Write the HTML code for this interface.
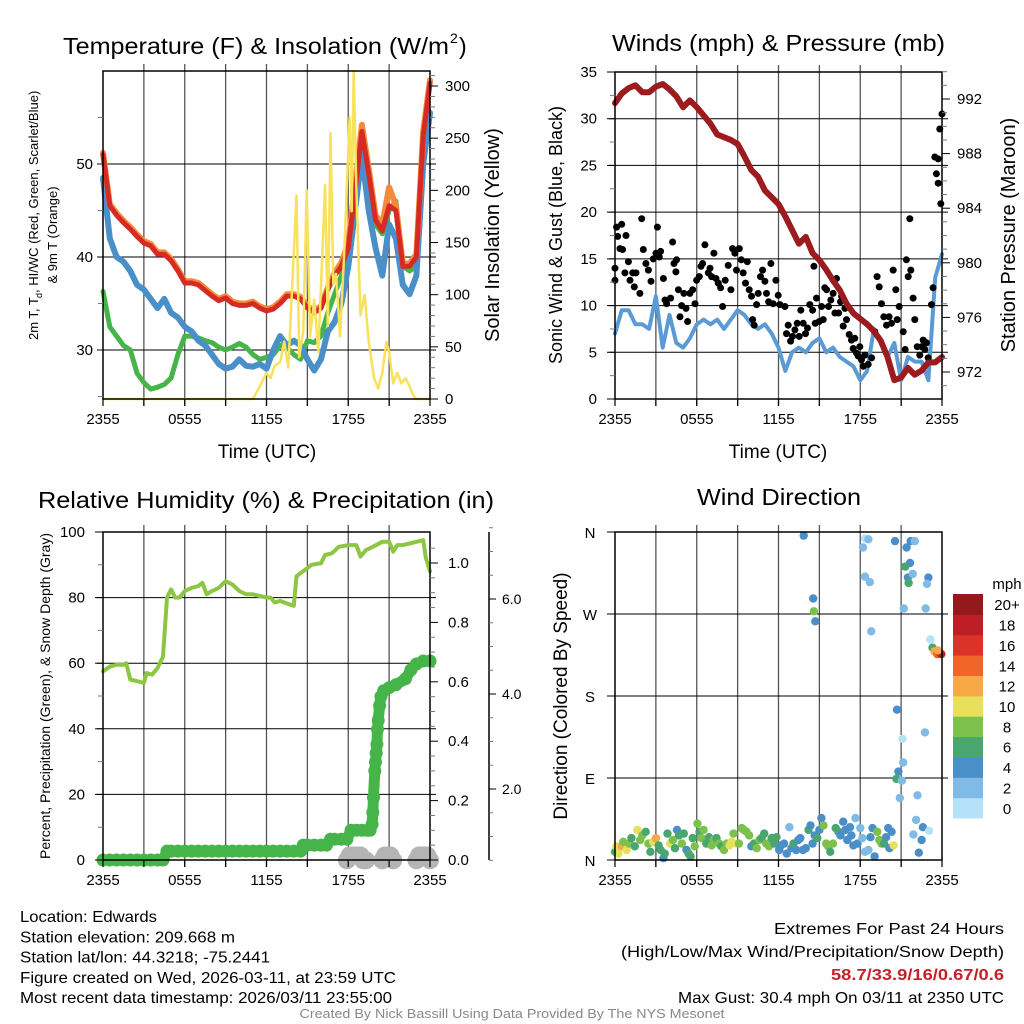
<!DOCTYPE html>
<html><head><meta charset="utf-8"><style>
html,body{margin:0;padding:0;background:#fff;}
svg{display:block;font-family:"Liberation Sans",sans-serif;}
</style></head><body>
<svg id="chart" width="1024" height="1024" viewBox="0 0 1024 1024" xmlns="http://www.w3.org/2000/svg">
<rect width="1024" height="1024" fill="#fff"/>
<g id="grids"></g>
<g id="series"></g>
<g id="frames"></g>
<g id="labels"></g>
</svg>
<script>
// ---------- Panel 1: temperature & insolation ----------
const hourTimes = [0,0.5,1,1.5,2,2.5,3,3.5,4,4.5,5,5.5,6,6.5,7,7.5,8,8.5,9,9.5,10,10.5,11,11.5,12,12.5,13,13.5,14,14.5,15,15.5,16,16.5,17,17.5,18,18.5,19,19.5,20,20.5,21,21.5,22,22.5,23,23.5,24];
const tempRed = [51,45.5,44.5,43.7,43,42.2,41.5,41.2,40.3,40.3,39.6,38.5,37.2,37.2,37,36.4,35.8,35.3,35.6,35,34.8,34.8,35,34.5,34.2,34.4,35,35.8,35.8,35.5,34.5,34,34.5,36.5,38,39,41,47,53.5,49,44,42.8,45.5,45,39,39,40,53,58.7];
const tempOrange = [51.2,45.7,44.7,43.9,43.2,42.4,41.7,41.4,40.5,40.5,39.8,38.7,37.4,37.4,37.2,36.6,36,35.5,35.8,35.2,35,35,35.2,34.7,34.4,34.6,35.2,36,36,35.7,34.7,34.2,34.7,36.7,38.3,39.4,41.5,47.8,54.2,49.5,44.5,43.5,47.5,45.5,39.3,39.3,40.3,53.5,59];
const windChillBlue = [48.5,42,40,39.5,38.5,37,36.5,35.5,34.5,35.5,34,33.5,32.5,32,31,30.5,29.5,28.5,28,28.2,29,28.3,28.2,28.5,28,30,31.5,30.5,31,30.5,29,27.8,29,32,33,35,39,45,51,45,41,38,43.5,42,37,36,38,50,55.5];
const dewGreen = [36.3,32.5,31.5,30.5,30,27.5,26.5,25.8,26,26.3,27,29.5,31.5,31.5,31.3,31,30.8,30.3,30,30.3,30.7,30.3,29.5,29,29.2,29.5,30.5,30.3,29.5,29,31,30.8,31.5,34,36,38,41,46,52,47,43.5,42.5,45,46,39,38.5,39,51,55.5];
const solarTimes = [0,11,11.5,12,12.3,12.6,13,13.3,13.6,14.2,14.4,14.7,14.95,15.2,15.5,15.8,16.3,16.5,16.7,16.9,17.1,17.4,17.7,18.1,18.25,18.4,18.6,18.9,19.2,19.5,19.9,20.2,20.5,20.8,21,21.3,21.6,21.9,22.2,22.5,22.8,23,24];
const solarValues = [0,0,12,25,20,32,35,55,30,195,40,65,200,60,95,45,205,70,255,110,120,60,140,270,180,314,200,80,100,55,20,10,25,55,45,15,25,15,20,12,3,0,0];
const p1LeftTicks = [30,40,50];
const p1RightTicks = [0,50,100,150,200,250,300];
const timeTickLabels = ["2355","0555","1155","1755","2355"];

// ---------- Panel 2: winds & pressure ----------
const windBlue = [7,9.5,9.5,8,8,7.5,11,5.5,9,6,5.5,6.5,8,8.5,8,8.5,7.5,8.5,9.5,9,8,7.5,8,7,5.5,3,5,5.5,5,6,6.5,5,5.5,4.5,4,3.5,2,3,7.5,6,4.5,6,2,4.5,4,4,2,13,15.5];
const pressureMaroon = [991.7,992.4,992.8,993,992.5,992.5,992.9,993.1,992.7,992.2,991.4,991.9,991.4,990.8,990.2,989.4,989.2,989,988.7,987.8,986.8,986.3,985.3,984.8,984.3,983.4,982.4,981.4,981.9,980.7,980.2,979.5,978.7,978,977,976.3,975.9,975.5,975,974.3,973.1,971.4,971.6,972.3,971.8,972.1,972.7,972.7,973.1];
const gustTimes = [0,0,0.12,0.2,0.37,0.49,0.56,0.73,0.81,0.98,1.1,1.3,1.42,1.54,1.83,1.96,2.08,2.27,2.45,2.64,2.81,3.01,3.11,3.25,3.35,3.55,3.67,3.79,4.08,4.23,4.33,4.47,4.52,4.65,4.77,4.89,5.06,5.21,5.33,5.5,5.7,5.87,5.99,6.19,6.31,6.43,6.6,6.85,6.97,7.09,7.26,7.41,7.58,7.75,7.9,8.09,8.31,8.51,8.63,8.8,8.92,9.12,9.27,9.41,9.58,9.71,9.85,10.02,10.1,10.22,10.39,10.51,10.68,10.83,11,11.12,11.27,11.44,11.61,11.81,11.98,12.1,12.47,12.59,12.71,12.89,13.03,13.2,13.37,13.52,13.64,13.81,13.98,14.13,14.3,14.5,14.6,14.69,14.79,14.99,15.16,15.28,15.4,15.53,15.67,15.84,16.01,16.14,16.26,16.41,16.55,16.63,16.75,16.87,16.99,17.19,17.36,17.48,17.6,17.73,17.85,17.97,18.09,18.22,18.34,18.58,18.83,19.07,19.24,19.39,19.56,19.73,19.93,20.12,20.29,20.42,20.61,20.71,20.86,21.15,21.3,21.39,21.52,21.64,21.71,21.88,22.0,22.18,22.37,22.49,22.62,22.74,22.86,22.98,23.23,23.35,23.47,23.59,23.72,23.72,23.84,23.91,24];
const gustValues = [12.7,14,18.4,17.4,16.1,18.7,16,13.5,17.5,14.7,12.7,13.5,12,13.5,11.3,19.3,16,14.5,13.8,12.6,15,15.6,18.4,15.2,15.8,12.9,10.6,10.2,10.8,16.8,14.5,13.6,14.9,11.7,8.8,10,11.3,9.7,8.3,11.3,11.7,10.2,12.7,13.1,14.2,14.5,16.5,13.5,14,13.1,15.6,12.9,12.4,11.9,9.9,12.7,14.3,11.7,16.1,15.6,13.8,16.1,14.9,13.5,12.4,14.7,11.7,11,8.5,7.9,10.1,11.3,13.1,13.8,12.6,11.3,10.4,14.5,10.2,12.7,11.1,10.1,9.9,7,7.9,6.2,6.7,7.4,8.1,6.7,9.5,8.1,7,7.6,10.1,9.5,14.2,8.1,10.8,8.3,9.9,8.5,11.9,11.7,9.9,10.6,11.3,9.2,12.9,9.2,10.4,11,7.8,9.7,8.5,6.9,6.3,5.4,6.5,4.9,4.6,5.6,4.2,3.5,4.7,3.7,4.4,7.2,13.1,12,10.2,8.8,7.9,8.8,8.1,13.8,11.7,8.5,9.9,7.2,5.3,14.9,13.1,19.3,13.8,10.8,8.5,5.6,4.7,5.6,6.3,5.3,6,4.4,10.1,11.9,25.9,24.1,25.7,23.1,28.9,20.9,30.5,28.6];
const p2LeftTicks = [0,5,10,15,20,25,30,35];
const p2RightTicks = [972,976,980,984,988,992];

// ---------- Panel 3: RH, precipitation, snow ----------
const rhTimes = [0,0.5,1,1.5,1.7,2,2.5,3,3.2,3.6,4,4.4,4.7,5,5.3,5.6,6,6.5,7,7.3,7.6,8,8.5,9,9.5,10,10.5,11,11.5,12,12.3,12.6,13,13.3,14,14.2,14.5,15,15.3,16,16.3,16.8,17.3,18,18.6,18.9,19.3,19.8,20.5,21,21.3,21.6,22,22.5,23,23.5,23.7,24];
const rhValues = [57.5,59,59.5,59.5,60,55,54.5,54,57,56.5,58.5,62,80,82.5,80,80,82,83,83.5,84.5,81,82,83,85,84,82,81,81,80.5,80,80,78.5,79,78.5,77.5,86.5,87.5,89,90,90.5,93,93.5,95.5,96,96,92.5,94.5,95.5,97,97,94,96,96,96.5,97,97.5,92,88];
const precipTimes = [0,0.5,1,1.5,2,2.5,3,3.5,4,4.4,4.7,5,5.5,6,6.5,7,7.5,8,8.5,9,9.5,10,10.5,11,11.5,12,12.5,13,13.5,14,14.5,14.7,15,15.5,16,16.4,16.7,17,17.5,17.9,18.2,18.6,19,19.4,19.6,19.75,19.8,19.85,19.95,20,20.05,20.1,20.15,20.2,20.3,20.4,20.6,21,21.5,22.2,22.6,23,23.5,24];
const precipValues = [0,0,0,0,0,0,0,0,0,0,0.03,0.03,0.03,0.03,0.03,0.03,0.03,0.03,0.03,0.03,0.03,0.03,0.03,0.03,0.03,0.03,0.03,0.03,0.03,0.03,0.03,0.05,0.05,0.05,0.05,0.05,0.07,0.07,0.07,0.07,0.1,0.1,0.1,0.1,0.1,0.12,0.16,0.21,0.3,0.33,0.36,0.39,0.44,0.47,0.52,0.55,0.57,0.58,0.59,0.61,0.64,0.66,0.67,0.67];
const snowTimes = [17.9,18.1,18.3,18.5,18.7,18.9,19.1,19.3,20.5,20.7,20.9,21.1,21.3,23.0,23.2,23.4,23.6,23.8,24.0];
const snowDepths = [0.5,0.6,0.6,0.6,0.6,0.6,0.5,0.5,0.5,0.6,0.6,0.6,0.5,0.5,0.6,0.6,0.6,0.6,0.5];
const p3LeftTicks = [0,20,40,60,80,100];
const p3RightTicks = ["0.0","0.2","0.4","0.6","0.8","1.0"];
const p3SnowTicks = ["2.0","4.0","6.0"];

// ---------- Panel 4: wind direction ----------
const dirTimes = [0,0.1,0.25,0.5,0.6,0.85,1.05,1.2,1.45,1.65,1.85,2.0,2.25,2.45,2.6,2.8,3.0,3.2,3.35,3.55,3.65,3.85,4.05,4.25,4.4,4.55,4.7,4.9,5.05,5.25,5.4,5.55,5.7,5.85,6.05,6.2,6.35,6.5,6.7,6.9,7.1,7.25,7.45,7.65,7.8,8.0,8.2,8.4,8.55,8.7,8.9,9.1,9.3,9.45,9.65,9.85,10.0,10.2,10.4,10.6,10.75,10.95,11.1,11.3,11.5,11.7,11.85,12.05,12.2,12.4,12.6,12.8,12.95,13.1,13.3,13.45,13.6,13.8,14.0,14.2,14.35,14.5,14.65,14.85,15.0,15.15,15.3,15.5,15.65,15.8,16.0,16.2,16.4,16.55,16.75,16.9,17.05,17.25,17.35,17.5,17.65,17.8,18.0,18.15,18.35,18.6,18.75,18.9,19.05,19.25,19.4,19.55,19.75,19.9,20.05,20.15,20.3,20.45,13.85,18.2,18.35,18.6,18.35,18.7,18.8,14.55,14.6,14.7,20.55,21.4,21.7,22.0,21.65,21.3,21.5,21.85,21.55,21.2,22.8,23.0,22.9,20.7,22.75,21.1,21.15,20.8,20.65,21.05,20.9,22.2,22.1,22.6,21.9,23.05,22.5,22.3,23.15,23.3,23.45,23.65,23.85,23.95,23.7];
const dirDegrees = [9,15,7,15,20,11,18,24,15,33,22,27,31,18,9,20,24,16,11,2,7,29,18,22,13,33,27,18,29,11,7,4,24,15,40,31,24,33,18,25,16,22,24,18,15,11,18,16,20,29,18,18,35,33,31,27,15,18,13,22,24,29,18,15,24,18,25,11,16,18,7,36,13,18,11,22,24,11,13,33,38,18,27,24,33,46,38,18,15,9,18,35,31,27,42,33,22,36,27,16,46,18,35,24,9,11,25,35,4,31,22,18,18,25,35,13,31,16,356,343,353,352,311,305,251,287,273,262,350,343,350,350,326,322,310,314,304,276,276,310,303,165,140,133,107,97,89,87,68,71,44,36,28,32,22,8,242,233,229,226,227,226,230];
const dirSpeeds = [6,10,10,12,8,10,8,7,6,10,9,8,7,8,7,10,13,7,6,4,6,6,10,9,6,4,7,8,6,4,6,6,6,8,8,7,8,8,7,7,8,8,6,8,7,8,9,10,10,8,10,8,8,9,8,8,4,7,8,8,7,6,8,8,6,6,6,4,4,4,4,2,4,6,4,4,4,4,4,6,4,4,4,6,4,4,8,8,8,6,8,6,6,4,4,4,4,4,4,4,2,4,2,2,2,2,4,4,4,8,8,8,6,4,4,4,4,10,4,2,1,2,2,2,2,4,8,4,4,4,4,2,4,6,4,2,6,2,2,4,2,4,2,1,2,4,6,2,2,2,2,4,2,1,4,4,1,6,12,14,16,18,12];
const dirTickLabels = ["N","E","S","W","N"];
const speedBins = ["0","2","4","6","8","10","12","14","16","18","20+"];
const speedColors = ["#b5e2f8","#7fbbe6","#4a8fc7","#49a66f","#7cc14b","#e6e05b","#f6a946","#f0662a","#dc3328","#be1e25","#94191c"];

// ---------- geometry ----------
const NS = "http://www.w3.org/2000/svg";
const G = {grids:document.getElementById('grids'),series:document.getElementById('series'),frames:document.getElementById('frames'),labels:document.getElementById('labels')};
function mk(parent, tag, attrs, name, inter){
  const el = document.createElementNS(NS, tag);
  for (const k in attrs) el.setAttribute(k, attrs[k]);
  
  
  G[parent].appendChild(el);
  return el;
}
function txt(s, x, y, size, anchor, name, extra){
  const a = Object.assign({x:x,y:y,'font-size':size,'text-anchor':anchor||'start',fill:'#000'}, extra||{});
  if (a.textLength) a.lengthAdjust = 'spacingAndGlyphs';
  const el = mk('labels','text',a,name,false);
  el.textContent = s;
  return el;
}
const L = {x0:103,x1:430}, R = {x0:615,x1:942};
function xa(t){ return L.x0 + t*(L.x1-L.x0)/24; }
function xb(t){ return R.x0 + t*(R.x1-R.x0)/24; }
function yT(v){ return 164 + (50-v)*9.3; }
function yS(v){ return 399 - v*1.0433; }
function yW(v){ return 399 - v*9.343; }
function yP(p){ return 372 - (p-972)*13.65; }
function yR(v){ return 860 - v*3.28; }
function yPr(p){ return 860 - p*297; }
function ySn(d){ return 884 - d*47.5; }
function yD(d){ return 860 - d*0.9111; }

function poly(times, vals, fx, fy, color, w, name){
  const pts = times.map((t,i)=>fx(t).toFixed(1)+','+fy(vals[i]).toFixed(1)).join(' ');
  mk('series','polyline',{points:pts,fill:'none',stroke:color,'stroke-width':w,'stroke-linejoin':'round','stroke-linecap':'round'},name,false);
}
function grid(px, top, bot, hVals, fy){
  for (let h=3; h<24; h+=3){
    const x = px.x0 + h*(px.x1-px.x0)/24;
    mk('grids','line',{x1:x,y1:top-7,x2:x,y2:bot+7,stroke:'#555','stroke-width':1.3},'vertical-gridline',false);
  }
  hVals.forEach(v=>{
    const y = fy(v);
    mk('grids','line',{x1:px.x0-6,y1:y,x2:px.x1+6,y2:y,stroke:'#000','stroke-width':1},'horizontal-gridline',false);
  });
}
function frame(px, top, bot, name){
  mk('frames','rect',{x:px.x0,y:top,width:px.x1-px.x0,height:bot-top,fill:'none',stroke:'#000','stroke-width':1.5},name,false);
  timeTickLabels.forEach((s,i)=>{
    const x = px.x0 + i*6*(px.x1-px.x0)/24;
    txt(s, x, bot+25, 15, 'middle', 'x-tick-label');
  });
  for (let h=0; h<=24; h+=3){
    const x = px.x0 + h*(px.x1-px.x0)/24;
    mk('frames','line',{x1:x,y1:bot,x2:x,y2:bot+7,stroke:'#000','stroke-width':1.2},'x-tick',false);
  }
}
function minorTicks(x, side, ys, len){
  ys.forEach(y=>mk('frames','line',{x1:x,y1:y,x2:x+side*len,y2:y,stroke:'#777','stroke-width':1},'minor-tick',false));
}

// ===== Panel 1 =====
grid(L, 71, 399, p1LeftTicks, yT);
poly(hourTimes, dewGreen, xa, yT, '#45b54a', 5, 'dewpoint-line');
poly(hourTimes, windChillBlue, xa, yT, '#4a90c8', 6, 'windchill-line');
poly(hourTimes, tempOrange, xa, yT, '#f58a3c', 6, 'temp-9m-line');
poly(hourTimes, tempRed, xa, yT, '#d62a24', 5, 'temp-2m-line');
poly(solarTimes, solarValues, xa, yS, '#f8e15b', 2.5, 'solar-insolation-line');
frame(L, 71, 399, 'temperature-plot-frame');
p1LeftTicks.forEach(v=>txt(String(v), 93, yT(v)+5, 15, 'end', 'y-tick-label'));
minorTicks(L.x0, -1, [25,35,45,55].map(yT), 5);
p1RightTicks.forEach(v=>txt(String(v), 445, yS(v)+5, 15, 'start', 'y2-tick-label'));
minorTicks(L.x1, 1, [10,20,30,40,60,70,80,90,110,120,130,140,160,170,180,190,210,220,230,240,260,270,280,290,310].map(yS), 5);
p1RightTicks.forEach(v=>mk('frames','line',{x1:L.x1,y1:yS(v),x2:L.x1+8,y2:yS(v),stroke:'#000','stroke-width':1},'y2-tick',false));
txt('Temperature (F) & Insolation (W/m', 63, 54, 23, 'start', 'temperature-chart-title', {textLength:386});
txt('2', 450, 43, 14, 'start', 'title-superscript');
txt(')', 459, 54, 23, 'start', 'title-paren');
txt('Time (UTC)', 267, 458, 19, 'middle', 'x-axis-title');
txt('2m T, T', 38, 340, 13, 'start', 'y-axis-title-line1', {transform:'rotate(-90 38 340)'});
txt('d', 42, 298, 9, 'start', 'y-axis-title-sub', {transform:'rotate(-90 42 298)'});
txt(', HI/WC (Red, Green, Scarlet/Blue)', 38, 293, 13, 'start', 'y-axis-title-line1b', {transform:'rotate(-90 38 293)'});
txt('& 9m T (Orange)', 57, 235, 13, 'middle', 'y-axis-title-line2', {transform:'rotate(-90 57 235)'});
txt('Solar Insolation (Yellow)', 499, 235, 20, 'middle', 'y2-axis-title', {transform:'rotate(-90 499 235)'});

// ===== Panel 2 =====
grid(R, 72, 399, [5,10,15,20,25,30], yW);
poly(hourTimes, windBlue, xb, yW, '#5b9bd5', 4, 'sonic-wind-line');
gustTimes.forEach((t,i)=>{
  mk('series','circle',{cx:xb(t).toFixed(1),cy:yW(gustValues[i]).toFixed(1),r:3.5,fill:'#000'},'gust-point',false);
});
poly(hourTimes, pressureMaroon, xb, yP, '#9b1b1e', 6, 'station-pressure-line');
frame(R, 72, 399, 'winds-plot-frame');
p2LeftTicks.forEach(v=>txt(String(v), 597, yW(v)+5, 15, 'end', 'y-tick-label'));
minorTicks(R.x0, -1, [2.5,7.5,12.5,17.5,22.5,27.5,32.5].map(yW), 5);
p2LeftTicks.forEach(v=>mk('frames','line',{x1:R.x0-8,y1:yW(v),x2:R.x0,y2:yW(v),stroke:'#000','stroke-width':1},'y-tick',false));
p2RightTicks.forEach(v=>txt(String(v), 957, yP(v)+5, 15, 'start', 'y2-tick-label'));
minorTicks(R.x1, 1, [971,973,974,975,977,978,979,981,982,983,985,986,987,989,990,991,993,994].map(yP), 5);
p2RightTicks.forEach(v=>mk('frames','line',{x1:R.x1,y1:yP(v),x2:R.x1+8,y2:yP(v),stroke:'#000','stroke-width':1},'y2-tick',false));
txt('Winds (mph) & Pressure (mb)', 612, 51, 23, 'start', 'winds-chart-title', {textLength:333});
txt('Time (UTC)', 778, 458, 19, 'middle', 'x-axis-title');
txt('Sonic Wind & Gust (Blue, Black)', 562, 235, 18, 'middle', 'y-axis-title', {transform:'rotate(-90 562 235)'});
txt('Station Pressure (Maroon)', 1015, 235, 20, 'middle', 'y2-axis-title', {transform:'rotate(-90 1015 235)'});

// ===== Panel 3 =====
grid(L, 532, 860, [20,40,60,80], yR);
snowTimes.forEach((t,i)=>{
  mk('series','circle',{cx:xa(t).toFixed(1),cy:ySn(snowDepths[i]).toFixed(1),r:9,fill:'#b4b4b4'},'snow-depth-point',false);
});
poly(rhTimes, rhValues, xa, yR, '#8dc642', 4, 'relative-humidity-line');
poly(precipTimes, precipValues, xa, yPr, '#45b54a', 11, 'precipitation-line');
precipTimes.forEach((t,i)=>{
  mk('series','circle',{cx:xa(t).toFixed(1),cy:yPr(precipValues[i]).toFixed(1),r:6.5,fill:'#45b54a'},'precipitation-point',false);
});
frame(L, 532, 860, 'humidity-plot-frame');
p3LeftTicks.forEach(v=>txt(String(v), 85, yR(v)+5, 15, 'end', 'y-tick-label'));
minorTicks(L.x0, -1, [10,30,50,70,90].map(yR), 5);
p3LeftTicks.forEach(v=>mk('frames','line',{x1:L.x0-8,y1:yR(v),x2:L.x0,y2:yR(v),stroke:'#000','stroke-width':1},'y-tick',false));
p3RightTicks.forEach(v=>txt(v, 448, yPr(parseFloat(v))+5, 15, 'start', 'y2-tick-label'));
minorTicks(L.x1, 1, [0.05,0.1,0.15,0.25,0.3,0.35,0.45,0.5,0.55,0.65,0.7,0.75,0.85,0.9,0.95,1.05].map(yPr), 5);
p3RightTicks.forEach(v=>mk('frames','line',{x1:L.x1,y1:yPr(parseFloat(v)),x2:L.x1+8,y2:yPr(parseFloat(v)),stroke:'#000','stroke-width':1},'y2-tick',false));
mk('frames','line',{x1:489,y1:532,x2:489,y2:860,stroke:'#000','stroke-width':1.5},'snow-depth-axis',false);
p3SnowTicks.forEach(v=>{
  txt(v, 502, ySn(parseFloat(v))+5, 14, 'start', 'snow-tick-label');
  mk('frames','line',{x1:489,y1:ySn(parseFloat(v)),x2:496,y2:ySn(parseFloat(v)),stroke:'#000','stroke-width':1},'snow-tick',false);
});
minorTicks(489, 1, [0.5,1,1.5,2.5,3,3.5,4.5,5,5.5,6.5,7,7.5].map(ySn), 4);
txt('Relative Humidity (%) & Precipitation (in)', 38, 508, 23, 'start', 'humidity-chart-title', {textLength:456});
txt('Percent, Precipitation (Green), & Snow Depth (Gray)', 50, 696, 14, 'middle', 'y-axis-title', {transform:'rotate(-90 50 696)'});

// ===== Panel 4 =====
grid(R, 532, 860, [90,180,270], yD);
dirTimes.forEach((t,i)=>{
  const s = dirSpeeds[i];
  const bin = Math.min(10, Math.floor(s/2));
  mk('series','circle',{cx:xb(t).toFixed(1),cy:yD(dirDegrees[i]).toFixed(1),r:4.2,fill:speedColors[bin]},'wind-direction-point',false);
});
frame(R, 532, 860, 'direction-plot-frame');
dirTickLabels.forEach((s,i)=>{
  txt(s, 590, yD(i*90)+6, 15, 'middle', 'direction-tick-label');
  mk('frames','line',{x1:R.x0-8,y1:yD(i*90),x2:R.x0,y2:yD(i*90),stroke:'#000','stroke-width':1},'y-tick',false);
});
txt('Wind Direction', 697, 505, 23, 'start', 'direction-chart-title', {textLength:164});
txt('Direction (Colored By Speed)', 567, 696, 19, 'middle', 'y-axis-title', {transform:'rotate(-90 567 696)'});
const cbTop = 594, cbBot = 818, cbH = (cbBot-cbTop)/speedBins.length;
speedBins.forEach((lab,i)=>{
  const y = cbBot - (i+1)*cbH;
  mk('frames','rect',{x:953,y:y.toFixed(1),width:30,height:(cbH+0.5).toFixed(1),fill:speedColors[i]},'colorbar-box',false);
  txt(lab, 1007, y+cbH/2+6, 15, 'middle', 'colorbar-label');
});
txt('mph', 1007, 589, 15, 'middle', 'colorbar-title');

// ===== footer text =====
const infoLines = ["Location: Edwards","Station elevation: 209.668 m","Station lat/lon: 44.3218; -75.2441","Figure created on Wed, 2026-03-11, at 23:59 UTC","Most recent data timestamp: 2026/03/11 23:55:00"];
const infoWidths = [137,215,250,376,372];
infoLines.forEach((s,i)=>txt(s, 20, 922+i*20.3, 16, 'start', 'station-info-line', {textLength:infoWidths[i]}));
txt('Extremes For Past 24 Hours', 1004, 934, 16, 'end', 'extremes-title', {textLength:230});
txt('(High/Low/Max Wind/Precipitation/Snow Depth)', 1004, 957, 16, 'end', 'extremes-legend', {textLength:383});
txt('58.7/33.9/16/0.67/0.6', 1004, 980, 16, 'end', 'extremes-values', {textLength:173,fill:'#c8202a','font-weight':'bold'});
txt('Max Gust: 30.4 mph On 03/11 at 2350 UTC', 1004, 1003, 16, 'end', 'max-gust-text', {textLength:326});
txt('Created By Nick Bassill Using Data Provided By The NYS Mesonet', 512, 1018, 13, 'middle', 'credits-footer', {textLength:425,fill:'#888'});
</script>
</body></html>
